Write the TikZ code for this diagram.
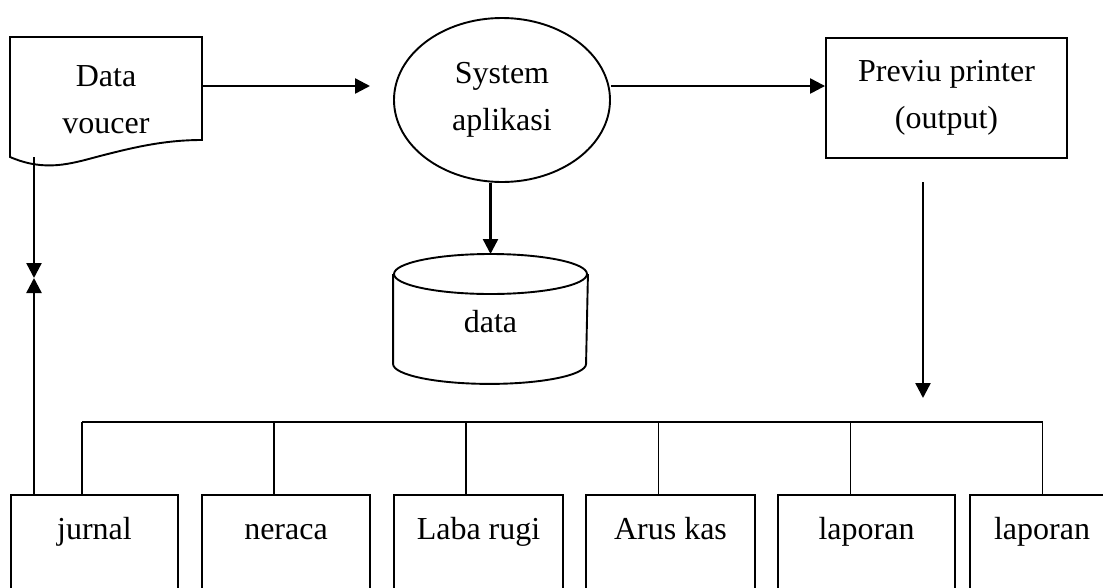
\documentclass[tikz,border=0pt]{standalone}
\usepackage{fontspec}
\setmainfont{Liberation Serif}
\usetikzlibrary{arrows.meta,shapes.geometric}
\begin{document}
\begin{tikzpicture}[x=1pt,y=-1pt,
  line width=1.9pt,
  txt/.style={font=\fontsize{32}{47}\selectfont, align=center, inner sep=0pt},
  arr/.style={line width=2.4pt,-{Triangle[length=15pt,width=15pt]}},
  outbox/.style={draw, rectangle, anchor=north, inner sep=0pt, text height=45pt, text depth=100pt, font=\fontsize{32}{47}\selectfont},
]
\clip (0,0) rectangle (1103,587);
% document shape
\node[txt, minimum width=192pt, minimum height=128pt] (doc) at (106,100) {Data\\voucer};
\draw (202,140) .. controls (165,140) and (135,147) .. (100,156) .. controls (70,164) and (45,172) .. (10,157) -- (10,37) -- (202,37) -- cycle;
% process
\node[txt, draw, ellipse, minimum width=216pt, minimum height=164pt] (sys) at (502,100) {System\\aplikasi};
% printer
\node[txt, draw, rectangle, minimum width=241pt, minimum height=120pt] (prn) at (946.5,98) {Previu printer\\(output)};
% database
\node[anchor=north, inner sep=0pt, minimum width=193pt, text height=78pt, text depth=50pt, font=\fontsize{32}{47}\selectfont] (db) at (490.5,254) {data};
\draw ([yshift=-20pt]db.north) ellipse [x radius=96.5pt, y radius=20pt];
\draw ([yshift=-20pt]db.north west) -- ([yshift=20pt]db.south west) arc[start angle=180, end angle=360, x radius=96.5pt, y radius=20pt] -- ([yshift=-20pt]db.north east);
% output boxes
\node[outbox, minimum width=167pt] (b1) at (94.5,494) {jurnal};
\node[outbox, minimum width=168pt] (b2) at (286,494) {neraca};
\node[outbox, minimum width=169pt] (b3) at (478.5,494) {Laba rugi};
\node[outbox, minimum width=169pt] (b4) at (670.5,494) {Arus kas};
\node[outbox, minimum width=177pt] (b5) at (866.5,494) {laporan};
\node[outbox, minimum width=144pt] (b6) at (1042,494) {laporan};
% connectors
\coordinate (a1) at (370,86);
\draw[arr] (doc.east |- a1) -- (a1);
\draw[arr] ([yshift=14pt]sys.east) -- ([yshift=12pt]prn.west);
\draw[arr] (db.north |- sys.south) -- (db.north);
\coordinate (m) at (34,278);
\coordinate (ds) at (34,157);
\draw[arr] (ds) -- (m);
\draw[arr] (b1.north -| m) -- (m);
\coordinate (p1) at (923,182);
\coordinate (p2) at (923,398);
\draw[arr] (p1) -- (p2);
% bus
\coordinate (d1) at (82,422);
\coordinate (d2) at (274,422);
\coordinate (d3) at (466,422);
\coordinate (d4) at (658.5,422);
\coordinate (d5) at (850.5,422);
\coordinate (d6) at (1042.5,422);
\draw (d1) -- (d6);
\draw (d1) -- (d1 |- b1.north);
\draw (d2) -- (d2 |- b2.north);
\draw (d3) -- (d3 |- b3.north);
\draw (d4) -- (d4 |- b4.north);
\draw (d5) -- (d5 |- b5.north);
\draw (d6) -- (d6 |- b6.north);
\end{tikzpicture}
\end{document}
